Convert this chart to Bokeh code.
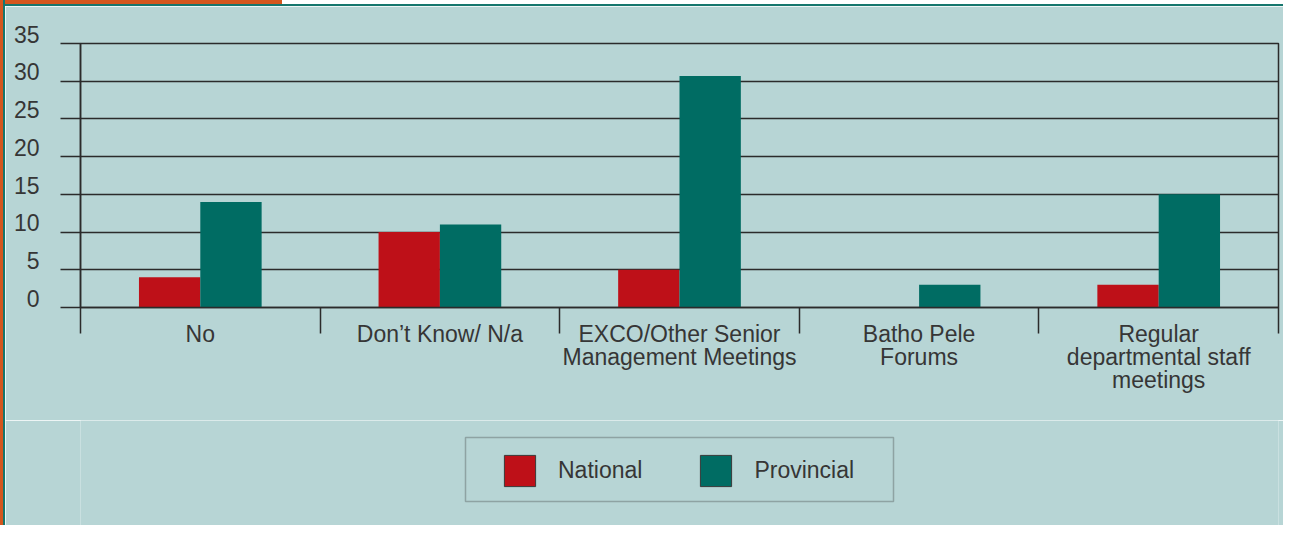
import numpy as np
from bokeh.plotting import figure
from bokeh.layouts import row, column
from bokeh.models import (ColumnDataSource, Range1d, FixedTicker, Legend, LegendItem,
                          BoxAnnotation, Div)
from bokeh.transform import dodge
from bokeh.embed import file_html
from bokeh.resources import INLINE

# ---- data ----
categories = ["No", "Don\u2019t Know/ N/a", "EXCO/Other Senior\nManagement Meetings",
              "Batho Pele\nForums", "Regular\ndepartmental staff\nmeetings"]
national = [4, 10, 5, 0, 3]
provincial = [14, 11, 30.7, 3, 15]
y_ticks = [0, 5, 10, 15, 20, 25, 30, 35]
series_names = ["National", "Provincial"]

BG = "#b7d5d5"
RED = "#be1018"
TEAL = "#006c63"
INK = "#2b2b2b"
TXT = "#363636"
ORANGE = "#d4561d"
BORDER_TEAL = "#16766d"
FONT = "Liberation Sans"

centers = list(np.arange(len(categories)) + 0.5)
src = ColumnDataSource(dict(x=centers, nat=national, prov=provincial))

# ---- main chart ----
p = figure(width=1278, height=414, output_backend="svg", toolbar_location=None,
           x_range=Range1d(0, len(categories)), y_range=Range1d(0, 35),
           min_border_left=75, min_border_right=5, min_border_top=37, min_border_bottom=113)
p.background_fill_color = BG
p.border_fill_color = BG
p.outline_line_color = INK
p.outline_line_width = 1.5

bw = 0.256
p.vbar(x=dodge("x", -bw / 2, range=p.x_range), top="nat", width=bw, source=src,
       fill_color=RED, line_color=None)
p.vbar(x=dodge("x", bw / 2, range=p.x_range), top="prov", width=bw, source=src,
       fill_color=TEAL, line_color=None)

# y axis
p.yaxis.ticker = FixedTicker(ticks=y_ticks)
p.yaxis.major_label_overrides = {t: f"{t}\n" for t in y_ticks}
p.yaxis.major_label_text_line_height = 0.68
p.yaxis.major_tick_out = 20
p.yaxis.major_tick_in = 0
p.yaxis.minor_tick_out = 0
p.yaxis.minor_tick_in = 0
p.yaxis.major_tick_line_color = INK
p.yaxis.major_tick_line_width = 1.5
p.yaxis.axis_line_color = INK
p.yaxis.axis_line_width = 1.5
p.yaxis.major_label_standoff = 21
p.yaxis.major_label_text_font = FONT
p.yaxis.major_label_text_font_size = "23px"
p.yaxis.major_label_text_color = TXT

p.ygrid.ticker = FixedTicker(ticks=y_ticks)
p.ygrid.grid_line_color = INK
p.ygrid.grid_line_width = 1.5
p.xgrid.visible = False

# x axis: labels at category centres, separators as minor ticks
p.xaxis.ticker = FixedTicker(ticks=centers, minor_ticks=list(range(len(categories) + 1)))
p.xaxis.major_label_overrides = {c: lab for c, lab in zip(centers, categories)}
p.xaxis.major_tick_out = 0
p.xaxis.major_tick_in = 0
p.xaxis.minor_tick_out = 26
p.xaxis.minor_tick_in = 0
p.xaxis.minor_tick_line_color = INK
p.xaxis.minor_tick_line_width = 1.5
p.xaxis.axis_line_color = INK
p.xaxis.axis_line_width = 1.5
p.xaxis.major_label_standoff = -13
p.xaxis.major_label_text_font = FONT
p.xaxis.major_label_text_font_size = "23px"
p.xaxis.major_label_text_color = TXT
p.xaxis.major_label_text_line_height = 0.885

# ---- legend panel (frame aligned with the chart frame: x 75..1273) ----
lg = figure(width=1278, height=105, x_axis_type=None, y_axis_type=None,
            toolbar_location=None, output_backend="svg",
            min_border_left=0, min_border_right=0, min_border_top=0, min_border_bottom=0,
            x_range=Range1d(0, 1), y_range=Range1d(0, 1))
lg.outline_line_color = None
lg.background_fill_color = BG
lg.border_fill_color = BG
lg.xgrid.visible = False
lg.ygrid.visible = False
pr_nat = lg.vbar(x="x", top="nat", width=bw, source=src, fill_color=RED,
                 line_color="#3a3a3a", line_width=1, visible=False)
pr_prov = lg.vbar(x="x", top="prov", width=bw, source=src, fill_color=TEAL,
                  line_color="#3a3a3a", line_width=1, visible=False)
legend = Legend(items=[LegendItem(label=series_names[0], renderers=[pr_nat], index=0),
                       LegendItem(label=series_names[1], renderers=[pr_prov], index=0)],
                orientation="horizontal", location=(408, 23),
                glyph_width=39, glyph_height=39, padding=12, margin=0,
                spacing=54, label_standoff=19,
                label_text_font=FONT, label_text_font_size="23px", label_text_color=TXT,
                border_line_alpha=0, background_fill_alpha=0, inactive_fill_alpha=0)
lg.add_layout(legend, "center")
lg.add_layout(BoxAnnotation(left=460, right=888, top=17, bottom=81,
                            left_units="canvas", right_units="canvas",
                            top_units="canvas", bottom_units="canvas",
                            fill_alpha=0, line_color="#333333", line_width=1.5))

# ---- page frame decorations ----
left = Div(text="", width=5, height=525, margin=0,
           styles={"background": f"linear-gradient(to right, {ORANGE} 3px, {BORDER_TEAL} 3px)"})
top = Div(text="", width=1278, height=6, margin=0,
          styles={"background": f"linear-gradient(to bottom, transparent 4px, {BORDER_TEAL} 4px), "
                                f"linear-gradient(to right, {ORANGE} 277px, #ffffff 277px)"})
layout = row(left, column(top, p, lg))

open("out.html", "w").write(file_html(layout, INLINE))
